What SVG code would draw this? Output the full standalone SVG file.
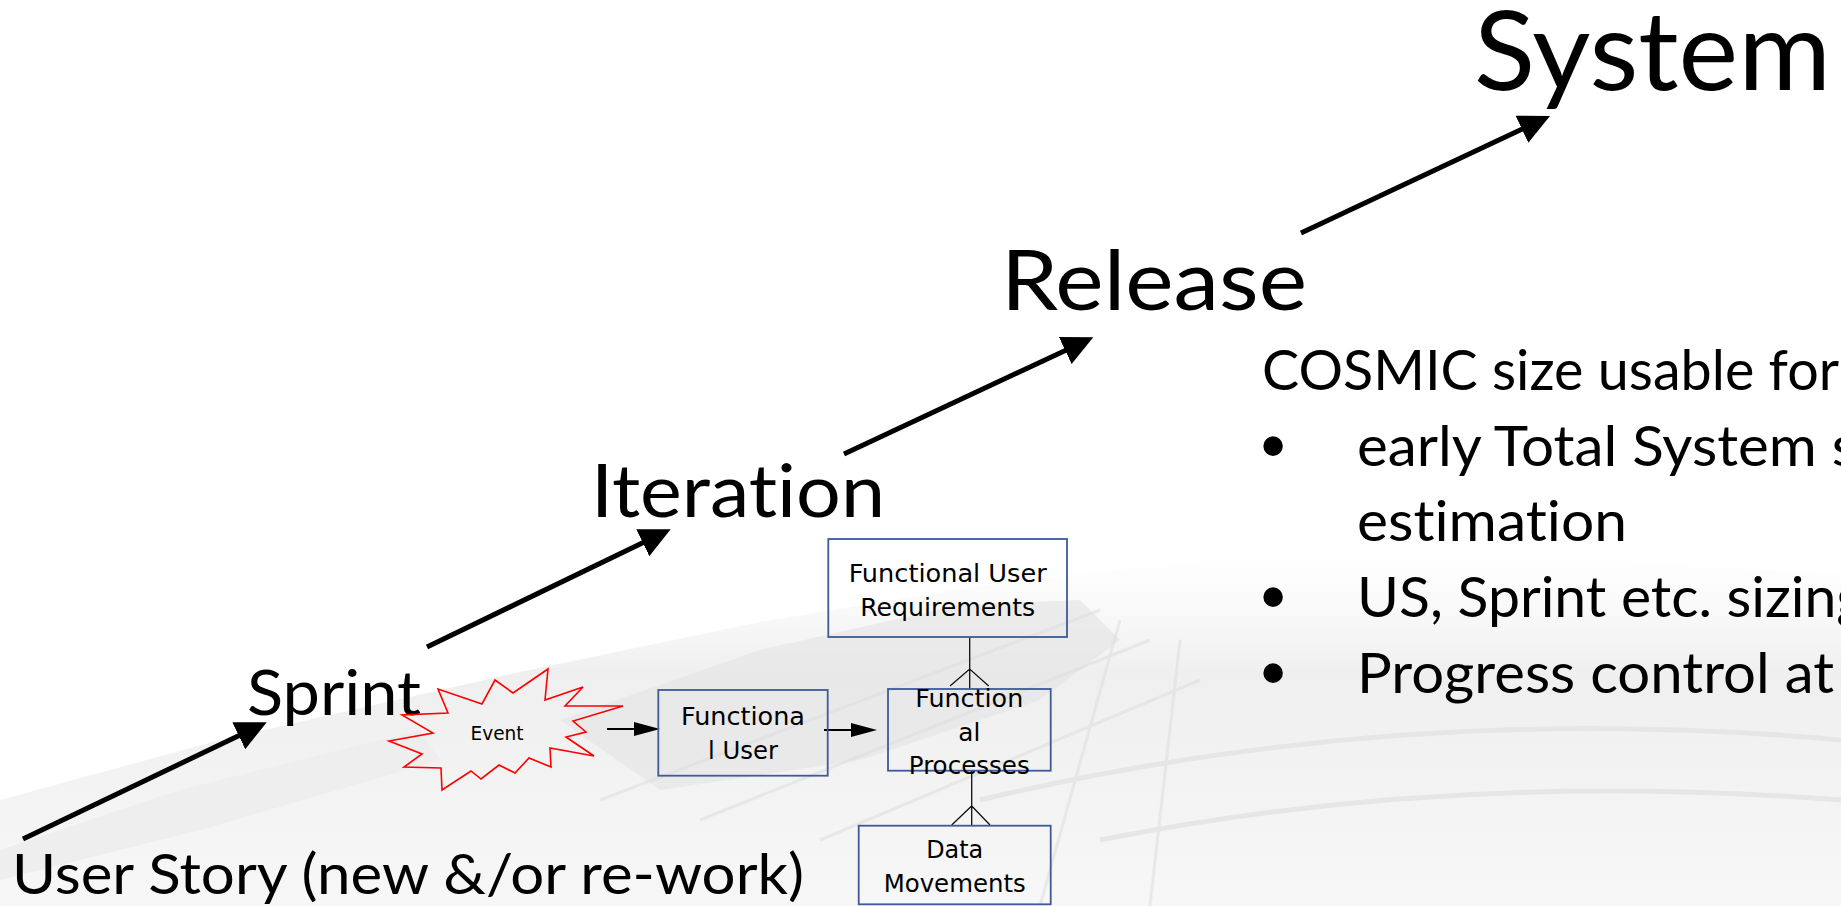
<svg xmlns="http://www.w3.org/2000/svg" width="1841" height="906" viewBox="0 0 1841 906">
  <style>
    .big { font-family: Lato, "Open Sans", "Liberation Sans", sans-serif; fill: #000; font-variant-ligatures: none; font-feature-settings: "liga" 0, "clig" 0; }
    .bullet { font-family: "Liberation Sans", Arial, sans-serif; font-size: 72px; fill: #000; text-anchor: middle; }
    .bt { font-family: "DejaVu Sans Condensed", "DejaVu Sans", sans-serif; font-size: 25px; fill: #000; text-anchor: middle; }
    .box { fill: none; stroke: #3c5a9a; stroke-width: 1.8; }
    .step { stroke: #000; stroke-width: 5; fill: none; marker-end: url(#bigHead); }
    .flow { stroke: #000; stroke-width: 2; fill: none; marker-end: url(#smallHead); }
    .crow { stroke: #111; stroke-width: 1.3; fill: none; }
  </style>
  <defs>
    <marker id="bigHead" markerUnits="userSpaceOnUse" markerWidth="32" markerHeight="30" viewBox="0 0 32 30" refX="12" refY="15" orient="auto">
      <path d="M0,0 L31,15 L0,30 z" fill="#000"/>
    </marker>
    <marker id="smallHead" markerUnits="userSpaceOnUse" markerWidth="26" markerHeight="14" viewBox="0 0 26 14" refX="6" refY="7" orient="auto">
      <path d="M0,0 L26,7 L0,14 z" fill="#000"/>
    </marker>
    <linearGradient id="haze" x1="0" y1="0" x2="0" y2="1">
      <stop offset="0" stop-color="#f6f6f6" stop-opacity="0"/>
      <stop offset="0.35" stop-color="#efefef"/>
      <stop offset="1" stop-color="#f7f7f7"/>
    </linearGradient>
  </defs>

  <rect width="1841" height="906" fill="#fff"/>

  <!-- faint perspective backdrop -->
  <g id="backdrop">
    <polygon points="0,906 0,800 220,740 520,672 760,622 980,586 1200,560 1450,548 1841,575 1841,906" fill="url(#haze)"/>
    <polygon points="560,720 760,650 960,605 1080,600 1120,640 1040,700 860,760 660,790" fill="#e6e6e6" opacity="0.7"/>
    <polygon points="0,850 180,790 420,730 440,760 200,830 0,880" fill="#ececec" opacity="0.8"/>
    <g stroke="#dedede" stroke-width="3" fill="none" opacity="0.55">
      <path d="M600,800 L1100,610"/>
      <path d="M700,820 L1150,640"/>
      <path d="M820,840 L1200,680"/>
      <path d="M1040,906 L1120,620"/>
      <path d="M1150,906 L1180,640"/>
    </g>
    <g stroke="#e6e6e6" stroke-width="5" fill="none">
      <path d="M980,800 Q1400,700 1841,740"/>
      <path d="M1100,840 Q1450,770 1841,800"/>
    </g>
  </g>

  <!-- connectors -->
  <g id="connectors">
    <line class="step" x1="23" y1="839" x2="249.6" y2="730.5"/>
    <line class="step" x1="427" y1="647" x2="653.6" y2="537.5"/>
    <line class="step" x1="844" y1="454" x2="1076.1" y2="345.4"/>
    <line class="step" x1="1301" y1="233" x2="1532.8" y2="124.1"/>

    <line class="flow" x1="607" y1="729" x2="640" y2="729"/>
    <line class="flow" x1="824" y1="730" x2="857" y2="730"/>

    <path class="crow" d="M969.7,637 L969.7,689 M950,686 L969.7,669 L988.7,686"/>
    <path class="crow" d="M971.7,771 L971.7,826 M951.7,825 L971.7,806 L990,825"/>
  </g>

  <!-- hierarchy labels -->
  <g id="system"><text class="big" x="1474" y="90" font-size="111" textLength="357" lengthAdjust="spacingAndGlyphs">System</text></g>
  <g id="release"><text class="big" x="1001" y="310" font-size="83" textLength="306" lengthAdjust="spacingAndGlyphs">Release</text></g>
  <g id="iteration"><text class="big" x="591" y="517" font-size="74" textLength="294" lengthAdjust="spacingAndGlyphs">Iteration</text></g>
  <g id="sprint"><text class="big" x="247" y="715" font-size="62" textLength="174" lengthAdjust="spacingAndGlyphs">Sprint</text></g>
  <g id="user-story"><text class="big" x="12" y="894" font-size="57" textLength="792" lengthAdjust="spacingAndGlyphs">User Story (new &amp;/or re-work)</text></g>

  <!-- usage notes -->
  <g id="cosmic-notes">
    <text class="big" x="1262" y="390" font-size="56" textLength="577" lengthAdjust="spacingAndGlyphs">COSMIC size usable for</text>
    <text class="bullet" x="1273" y="470">•</text>
    <text class="big" x="1357" y="466" font-size="56" textLength="500" lengthAdjust="spacingAndGlyphs">early Total System s</text>
    <text class="big" x="1357" y="541" font-size="56" textLength="270" lengthAdjust="spacingAndGlyphs">estimation</text>
    <text class="bullet" x="1273" y="621">•</text>
    <text class="big" x="1357" y="617" font-size="56" textLength="509" lengthAdjust="spacingAndGlyphs">US, Sprint etc. sizing</text>
    <text class="bullet" x="1273" y="697">•</text>
    <text class="big" x="1357" y="693" font-size="56" textLength="477" lengthAdjust="spacingAndGlyphs">Progress control at</text>
  </g>

  <!-- COSMIC model -->
  <g id="event">
    <polygon points="389,741 433,733 402,715 448,713 438,689 482,704 495,680 513,693 548,669 545,700 583,687 565,706 623,706 573,721 586,732 566,737 594,756 550,748 551,767 529,758 515,773 499,765 481,779 471,771 442,790 441,768 404,767 422,754" fill="none" stroke="#ff0000" stroke-width="1.6" stroke-linejoin="miter"/>
    <text class="bt" x="497" y="740" style="font-size:20px" textLength="53" lengthAdjust="spacingAndGlyphs">Event</text>
  </g>
  <g id="functional-user">
    <rect class="box" x="658.3" y="690" width="169.4" height="85.7"/>
    <text class="bt" x="743" y="725" textLength="124" lengthAdjust="spacingAndGlyphs">Functiona</text>
    <text class="bt" x="743" y="759.3" textLength="70" lengthAdjust="spacingAndGlyphs">l User</text>
  </g>
  <g id="functional-user-requirements">
    <rect class="box" x="828.3" y="539" width="238.7" height="98"/>
    <text class="bt" x="947.7" y="582" textLength="198" lengthAdjust="spacingAndGlyphs">Functional User</text>
    <text class="bt" x="947.7" y="615.7" textLength="175" lengthAdjust="spacingAndGlyphs">Requirements</text>
  </g>
  <g id="functional-processes">
    <rect class="box" x="888" y="689" width="162.7" height="81.7"/>
    <text class="bt" x="969.3" y="706.7" textLength="108" lengthAdjust="spacingAndGlyphs">Function</text>
    <text class="bt" x="969.3" y="740.7" textLength="22" lengthAdjust="spacingAndGlyphs">al</text>
    <text class="bt" x="969.3" y="774" textLength="121" lengthAdjust="spacingAndGlyphs">Processes</text>
  </g>
  <g id="data-movements">
    <rect class="box" x="858.7" y="825.7" width="192" height="78.6"/>
    <text class="bt" x="954.7" y="858.3" textLength="57" lengthAdjust="spacingAndGlyphs">Data</text>
    <text class="bt" x="954.7" y="892.3" textLength="142" lengthAdjust="spacingAndGlyphs">Movements</text>
  </g>
</svg>
